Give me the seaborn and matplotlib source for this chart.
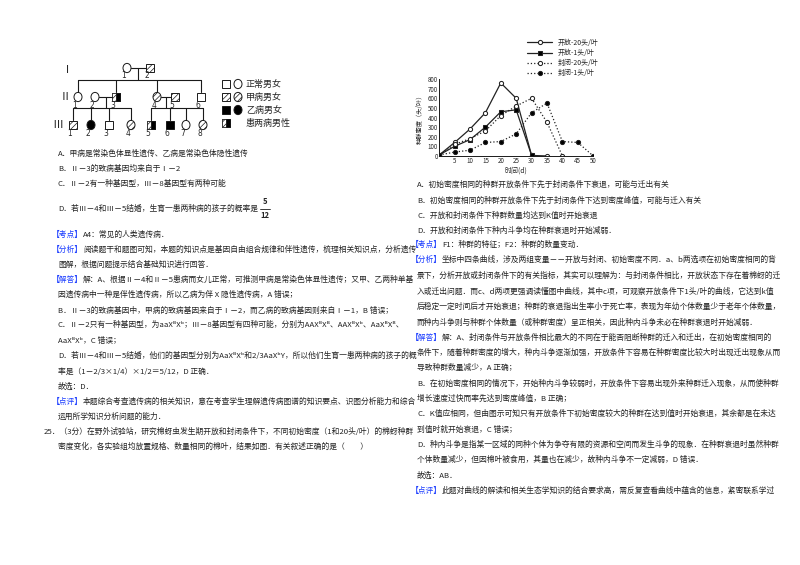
import matplotlib
matplotlib.use("Agg")
import matplotlib.pyplot as plt
import matplotlib.patches as mpatches
import seaborn as sns
import pandas as pd

sns.set_theme(style="white")
plt.rcParams['font.family'] = ['Noto Sans CJK SC', 'DejaVu Sans']
plt.rcParams['hatch.linewidth'] = 0.5

# ---- 曲线数据 ----
days = [0, 5, 10, 15, 20, 25, 30, 35, 40, 45, 50]
open_20 = [10, 140, 280, 450, 760, 600, 5, 0]
open_1 = [10, 100, 170, 300, 460, 480, 5]
closed_20 = [10, 120, 180, 260, 420, 520, 600, 350, 0]
closed_1 = [10, 40, 60, 140, 150, 230, 450, 550, 150, 140, 0]
series_names = ['开放-20头/叶', '开放-1头/叶', '封闭-20头/叶', '封闭-1头/叶']
series_vals = [open_20, open_1, closed_20, closed_1]

rows = []
for name, vals in zip(series_names, series_vals):
    for d, v in zip(days, vals):
        rows.append({'时间': d, '密度': v, '组': name})
df = pd.DataFrame(rows)

fig = plt.figure(figsize=(8, 5.65), dpi=100)

# ---- 页面文字 ----
BLUE = '#1a3cff'
FS = 5.6
TAGW = 31
left_lines = [
    (154, 'A．甲病是常染色体显性遗传、乙病是常染色体隐性遗传'),
    (169, 'B．Ⅱ－3的致病基因均来自于Ⅰ－2'),
    (184, 'C．Ⅱ－2有一种基因型，Ⅲ－8基因型有两种可能'),
    (209, 'D．若Ⅲ－4和Ⅲ－5结婚，生育一患两种病的孩子的概率是'),
    (265, '图解，根据问题提示结合基础知识进行回答．'),
    (295, '因遗传病中一种是伴性遗传病，所以乙病为伴 X 隐性遗传病，A 错误；'),
    (311, 'B．Ⅱ－3的致病基因中，甲病的致病基因来自于Ⅰ－2，而乙病的致病基因则来自Ⅰ－1，B 错误；'),
    (325, 'C．Ⅱ－2只有一种基因型，为aaXᴮXᵇ；Ⅲ－8基因型有四种可能，分别为AAXᴮXᴮ、AAXᴮXᵇ、AaXᴮXᴮ、'),
    (341, 'AaXᴮXᵇ，C 错误；'),
    (356, 'D．若Ⅲ－4和Ⅲ－5结婚，他们的基因型分别为AaXᴮXᵇ和2/3AaXᵇY，所以他们生育一患两种病的孩子的概'),
    (372, '率是（1－2/3×1/4）×1/2＝5/12，D 正确．'),
    (387, '故选：D．'),
    (417, '运用所学知识分析问题的能力．'),
    (447, '密度变化，各实验组均放置规格、数量相同的棉叶，结果如图．有关叙述正确的是（　　）'),
]
for y, t in left_lines:
    fig.text(58 / 800, 1 - y / 565, t, fontsize=FS, va='center', color='#222')
fig.text(44 / 800, 1 - 432 / 565, '25．（3分）在野外试验站，研究棉蚜虫发生期开放和封闭条件下，不同初始密度（1和20头/叶）的棉蚜种群',
         fontsize=FS, va='center', color='#222')
fig.text(265 / 800, 1 - 202 / 565, '5', fontsize=5.5, va='center', ha='center', weight='bold')
fig.text(265 / 800, 1 - 216 / 565, '12', fontsize=5.5, va='center', ha='center', weight='bold')
fig.add_artist(plt.Line2D([260 / 800, 270 / 800], [1 - 209 / 565] * 2, color='k', lw=0.6))

tagged_left = [
    (235, '【考点】', 'A4：常见的人类遗传病．'),
    (250, '【分析】', '阅读题干和题图可知，本题的知识点是基因自由组合规律和伴性遗传，梳理相关知识点，分析遗传'),
    (280, '【解答】', '解：A、根据Ⅱ－4和Ⅱ－5患病而女儿正常，可推测甲病是常染色体显性遗传；又甲、乙两种单基'),
    (402, '【点评】', '本题综合考查遗传病的相关知识，意在考查学生理解遗传病图谱的知识要点、识图分析能力和综合'),
]
for y, tag, t in tagged_left:
    fig.text(52 / 800, 1 - y / 565, tag, fontsize=FS, va='center', color=BLUE)
    fig.text((52 + TAGW) / 800, 1 - y / 565, t, fontsize=FS, va='center', color='#222')

right_lines = [
    (185, 'A．初始密度相同的种群开放条件下先于封闭条件下衰退，可能与迁出有关'),
    (201, 'B．初始密度相同的种群开放条件下先于封闭条件下达到密度峰值，可能与迁入有关'),
    (216, 'C．开放和封闭条件下种群数量均达到K值时开始衰退'),
    (231, 'D．开放和封闭条件下种内斗争均在种群衰退时开始减弱．'),
    (276, '景下，分析开放或封闭条件下的有关指标，其实可以理解为：与封闭条件相比，开放状态下存在着棉蚜的迁'),
    (292, '入或迁出问题．而c、d两项更强调读懂图中曲线，其中c项，可观察开放条件下1头/叶的曲线，它达到k值'),
    (307, '后稳定一定时间后才开始衰退；种群的衰退指出生率小于死亡率，表现为年幼个体数量少于老年个体数量，'),
    (323, '而种内斗争则与种群个体数量（或种群密度）呈正相关，因此种内斗争未必在种群衰退时开始减弱．'),
    (353, '条件下，随着种群密度的增大，种内斗争逐渐加强，开放条件下容易在种群密度比较大时出现迁出现象从而'),
    (368, '导致种群数量减少，A 正确；'),
    (384, 'B．在初始密度相同的情况下，开始种内斗争较弱时，开放条件下容易出现外来种群迁入现象，从而使种群'),
    (399, '增长速度过快而率先达到密度峰值，B 正确；'),
    (414, 'C．K值应相同，但由图示可知只有开放条件下初始密度较大的种群在达到值时开始衰退，其余都是在未达'),
    (430, '到值时就开始衰退，C 错误；'),
    (445, 'D．种内斗争是指某一区域的同种个体为争夺有限的资源和空间而发生斗争的现象．在种群衰退时虽然种群'),
    (460, '个体数量减少，但因棉叶被食用，其量也在减少，故种内斗争不一定减弱，D 错误．'),
    (476, '故选：AB．'),
]
for y, t in right_lines:
    fig.text(417 / 800, 1 - y / 565, t, fontsize=FS, va='center', color='#222')
tagged_right = [
    (245, '【考点】', 'F1：种群的特征；F2：种群的数量变动．'),
    (260, '【分析】', '坐标中四条曲线，涉及两组变量－－开放与封闭、初始密度不同．a、b两选项在初始密度相同的背'),
    (338, '【解答】', '解：A、封闭条件与开放条件相比最大的不同在于能否阻断种群的迁入和迁出，在初始密度相同的'),
    (491, '【点评】', '此题对曲线的解读和相关生态学知识的结合要求高，需反复查看曲线中蕴含的信息，紧密联系学过'),
]
for y, tag, t in tagged_right:
    fig.text(411 / 800, 1 - y / 565, tag, fontsize=FS, va='center', color=BLUE)
    fig.text((411 + TAGW) / 800, 1 - y / 565, t, fontsize=FS, va='center', color='#222')

# ---- 系谱图 ----
ov = fig.add_axes([0, 0, 1, 1])
ov.set_xlim(0, 800)
ov.set_ylim(565, 0)
ov.axis('off')
S = 8


def person(x, y, sex, kind, num=None):
    if sex == 'm':
        p = mpatches.Rectangle((x - S / 2, y - S / 2), S, S)
    else:
        p = mpatches.Ellipse((x, y), S, S * 1.15)
    p.set_edgecolor('k')
    p.set_linewidth(0.7)
    p.set_facecolor('black' if kind == 'b' else 'white')
    if kind == 'h':
        p.set_hatch('//////')
    ov.add_patch(p)
    if kind == 'hb':
        ov.add_patch(mpatches.Rectangle((x - S / 2, y - S / 2), S / 2, S, fc='white', ec='k', lw=0.5, hatch='//////'))
        ov.add_patch(mpatches.Rectangle((x, y - S / 2), S / 2, S, fc='black', ec='k', lw=0.5))
    if num:
        ov.text(x - 3, y + 8, num, fontsize=5.5, ha='center', va='center', family='DejaVu Sans')


ov.text(62, 70, 'Ⅰ', fontsize=8, va='center')
ov.text(60, 97, 'Ⅱ', fontsize=8, va='center')
ov.text(52, 125, 'Ⅲ', fontsize=8, va='center')
lw = 0.8
ov.plot([131, 146], [68, 68], 'k', lw=lw)
ov.plot([138, 138], [68, 80], 'k', lw=lw)
ov.plot([78, 201], [80, 80], 'k', lw=lw)
for x in [78, 116, 157, 201]:
    ov.plot([x, x], [80, 92], 'k', lw=lw)
ov.plot([99, 112], [97, 97], 'k', lw=lw)
ov.plot([106, 106], [97, 108], 'k', lw=lw)
ov.plot([73, 131], [108, 108], 'k', lw=lw)
ov.plot([161, 171], [97, 97], 'k', lw=lw)
ov.plot([166, 166], [97, 108], 'k', lw=lw)
ov.plot([151, 203], [108, 108], 'k', lw=lw)
for x in [73, 91, 109, 131, 151, 170, 186, 203]:
    ov.plot([x, x], [108, 120], 'k', lw=lw)
person(127, 68, 'f', 'n', '1')
person(150, 68, 'm', 'h', '2')
person(78, 97, 'f', 'n', '1')
person(95, 97, 'f', 'n', '2')
person(116, 97, 'm', 'hb', '3')
person(157, 97, 'f', 'h', '4')
person(175, 97, 'm', 'h', '5')
person(201, 97, 'm', 'n', '6')
for x, s, k, n in [(73, 'm', 'h', '1'), (91, 'f', 'b', '2'), (109, 'm', 'n', '3'), (131, 'f', 'h', '4'),
                   (151, 'm', 'hb', '5'), (170, 'm', 'b', '6'), (186, 'f', 'n', '7'), (203, 'f', 'h', '8')]:
    person(x, 125, s, k, n)
for y, kinds, label in [(84, ('n', 'n'), '正常男女'), (97, ('h', 'h'), '甲病男女'),
                        (110, ('b', 'b'), '乙病男女'), (123, ('hb', None), '患两病男性')]:
    person(226, y, 'm', kinds[0])
    if kinds[1]:
        person(238, y, 'f', kinds[1])
    ov.text(246, y, label, fontsize=6.5, va='center')

# ---- 种群密度曲线 ----
ax = fig.add_axes([0.549, 0.724, 0.1925, 0.136])
styles = {
    '开放-20头/叶': dict(ls='-', marker='o', mfc='white'),
    '开放-1头/叶': dict(ls='-', marker='s', mfc='black'),
    '封闭-20头/叶': dict(ls=':', marker='o', mfc='white'),
    '封闭-1头/叶': dict(ls=':', marker='o', mfc='black'),
}
for name in series_names:
    sub = df[df['组'] == name]
    st = styles[name]
    sns.lineplot(data=sub, x='时间', y='密度', ax=ax, color='#222', lw=0.9, linestyle=st['ls'],
                 marker=st['marker'], markersize=3, markerfacecolor=st['mfc'], markeredgecolor='#222',
                 label=name)
ax.set_xlim(0, 50)
ax.set_ylim(0, 800)
ax.set_xticks([5, 10, 15, 20, 25, 30, 35, 40, 45, 50])
ax.set_yticks(range(0, 801, 100))
ax.tick_params(labelsize=4.5, length=2, pad=1, direction='in')
ax.set_xlabel('时间(d)', fontsize=5, labelpad=1)
ax.set_ylabel('种群密度（头/叶）', fontsize=4.5, labelpad=3)
for s in ['top', 'right']:
    ax.spines[s].set_visible(False)
for s in ['left', 'bottom']:
    ax.spines[s].set_color('k')
    ax.spines[s].set_linewidth(0.7)
ax.legend(loc='lower left', bbox_to_anchor=(0.55, 0.98), fontsize=5, frameon=False,
          handlelength=3.5, labelspacing=0.3, borderpad=0)

fig.savefig('out.png', dpi=100)
